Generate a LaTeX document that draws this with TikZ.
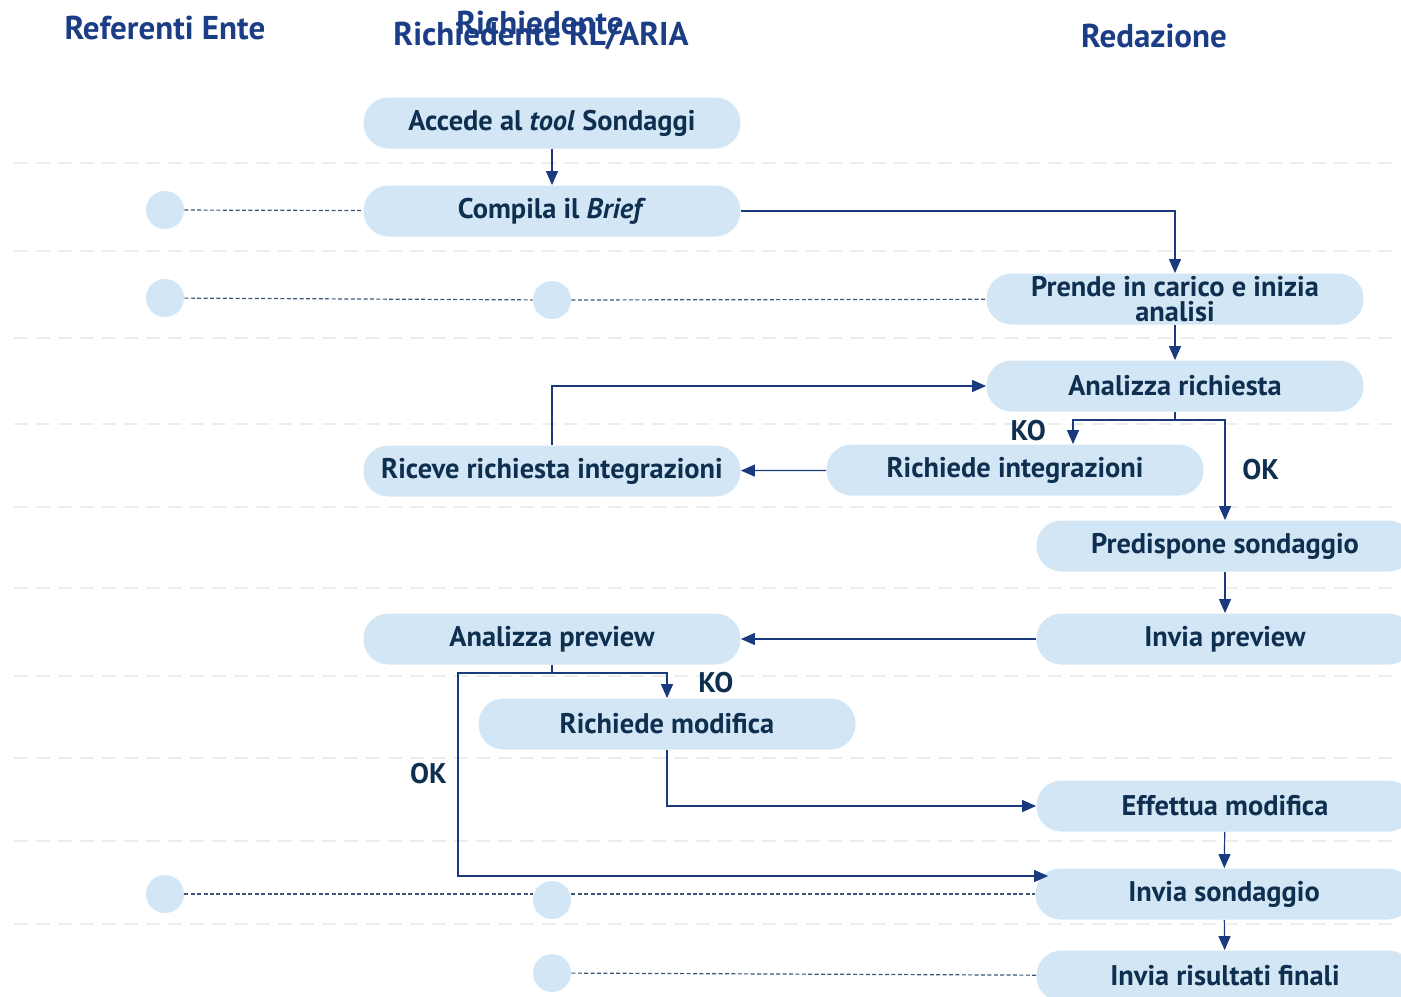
\documentclass[tikz,border=0pt]{standalone}
\usepackage{fontspec}
\setmainfont{PT Sans}
\usetikzlibrary{calc,positioning,arrows.meta}

\definecolor{boxblue}{HTML}{D2E6F5}
\definecolor{testo}{HTML}{0E2F4F}
\definecolor{titolo}{HTML}{1B3D85}
\definecolor{blufreccia}{HTML}{1A3A80}
\definecolor{divisore}{HTML}{ECEFE6}
\definecolor{tratteggio}{HTML}{3A5875}

\newcommand{\testofont}{\fontsize{14.2}{12.4}\selectfont\bfseries}
\newcommand{\titolofont}{\fontsize{16.5}{16}\selectfont\bfseries}

\tikzset{
  attivita/.style={fill=boxblue, rounded corners=12.5pt, minimum width=188.5pt,
    minimum height=25.5pt, inner sep=0pt, font=\testofont, text=testo, align=center},
  nodino/.style={circle, fill=boxblue, minimum size=19pt, inner sep=0pt},
  colonna/.style={font=\titolofont, text=titolo},
  esito/.style={font=\testofont, text=testo},
  freccia/.style={draw=blufreccia, line width=0.6pt, -{Triangle[width=6pt,length=7pt]}},
  linea/.style={draw=blufreccia, line width=0.6pt},
  legame/.style={draw=tratteggio, line width=0.6pt, dash pattern=on 2pt off 1.2pt},
  divisione/.style={draw=divisore, line width=1.4pt, dash pattern=on 7pt off 4pt}
}

\begin{document}
\begin{tikzpicture}[x=0.5pt, y=-0.5pt]
  \useasboundingbox (0,0) rectangle (1401,996);
  \clip (0,0) rectangle (1401,996);

  % corsie
  \foreach \y in {163,251,338,424,507,588,676,758,841,924}
    \draw[divisione] (14,\y) -- (1398,\y);

  \node[colonna] (ente) at (165,28) {Referenti Ente};
  \node[colonna] (rich) at (540,23) {Richiedente};
  \node[colonna] (richrl) at (541,36) {Richiedente RL/ARIA};
  \node[colonna] (redaz) at (1154,36) {Redazione};

  % attivita
  \node[attivita] (accede) at (552,123) {Accede al \textit{tool} Sondaggi};
  \node[attivita] (compila) at (552,211) {Compila il \textit{Brief}};
  \node[attivita] (prende) at (1175,299) {Prende in carico e inizia\\analisi};
  \node[attivita] (analizza) at (1175,386) {Analizza richiesta};
  \node[attivita] (integr) at (1015,470) {Richiede integrazioni};
  \node[attivita] (riceve) at (552,471) {Riceve richiesta integrazioni};
  \node[attivita] (predisp) at (1225,546) {Predispone sondaggio};
  \node[attivita] (invprev) at (1225,639) {Invia preview};
  \node[attivita] (anprev) at (552,639) {Analizza preview};
  \node[attivita] (modifica) at (667,724) {Richiede modifica};
  \node[attivita] (effettua) at (1225,806) {Effettua modifica};
  \node[attivita] (invsond) at (1224,894) {Invia sondaggio};
  \node[attivita] (risultati) at (1225,976) {Invia risultati finali};

  % partecipanti
  \node[nodino] (e1) at (165,210) {};
  \node[nodino] (e2) at (165,298) {};
  \node[nodino] (r2) at (552,300) {};
  \node[nodino] (e3) at (165,894) {};
  \node[nodino] (r3) at (552,900) {};
  \node[nodino] (r4) at (552,973) {};

  \draw[legame] (e1) -- (compila);
  \draw[legame] (e2) -- (r2);
  \draw[legame] (r2) -- (prende);
  \draw[legame] (e3) -- (e3 -| r3.west);
  \draw[legame] (r3.east |- e3) -- (invsond);
  \draw[legame] (r4) -- (risultati);

  % flusso
  \draw[freccia] (accede) -- (compila);
  \draw[freccia] (compila) -| (prende);
  \draw[freccia] (prende) -- (analizza);
  \draw[linea] (analizza.south) -- ++(0,8) coordinate (bivio1);
  \draw[freccia] (bivio1) -| ($(integr.north)+(58,0)$) node[esito, pos=0.71, left=10pt] {KO};
  \draw[freccia] (bivio1) -| (predisp) node[esito, pos=0.75, right=5pt] {OK};
  \draw[freccia] (integr) -- (riceve);
  \draw[freccia] (riceve) |- (analizza);
  \draw[freccia] (predisp) -- (invprev);
  \draw[freccia] (invprev) -- (anprev);
  \draw[linea] (anprev.south) -- ++(0,8) coordinate (bivio2);
  \draw[freccia] (bivio2) -| (modifica) node[esito, pos=0.7, right=12pt] {KO};
  \draw[freccia] (bivio2) -- ++(-94,0) coordinate (okgiu)
    |- ($(invsond.west)+(13,-18)$) node[esito, pos=0.248, left=2pt] {OK};
  \draw[freccia] (modifica) |- (effettua);
  \draw[freccia] (effettua) -- (invsond);
  \draw[freccia] (invsond) -- (risultati);
\end{tikzpicture}
\end{document}
